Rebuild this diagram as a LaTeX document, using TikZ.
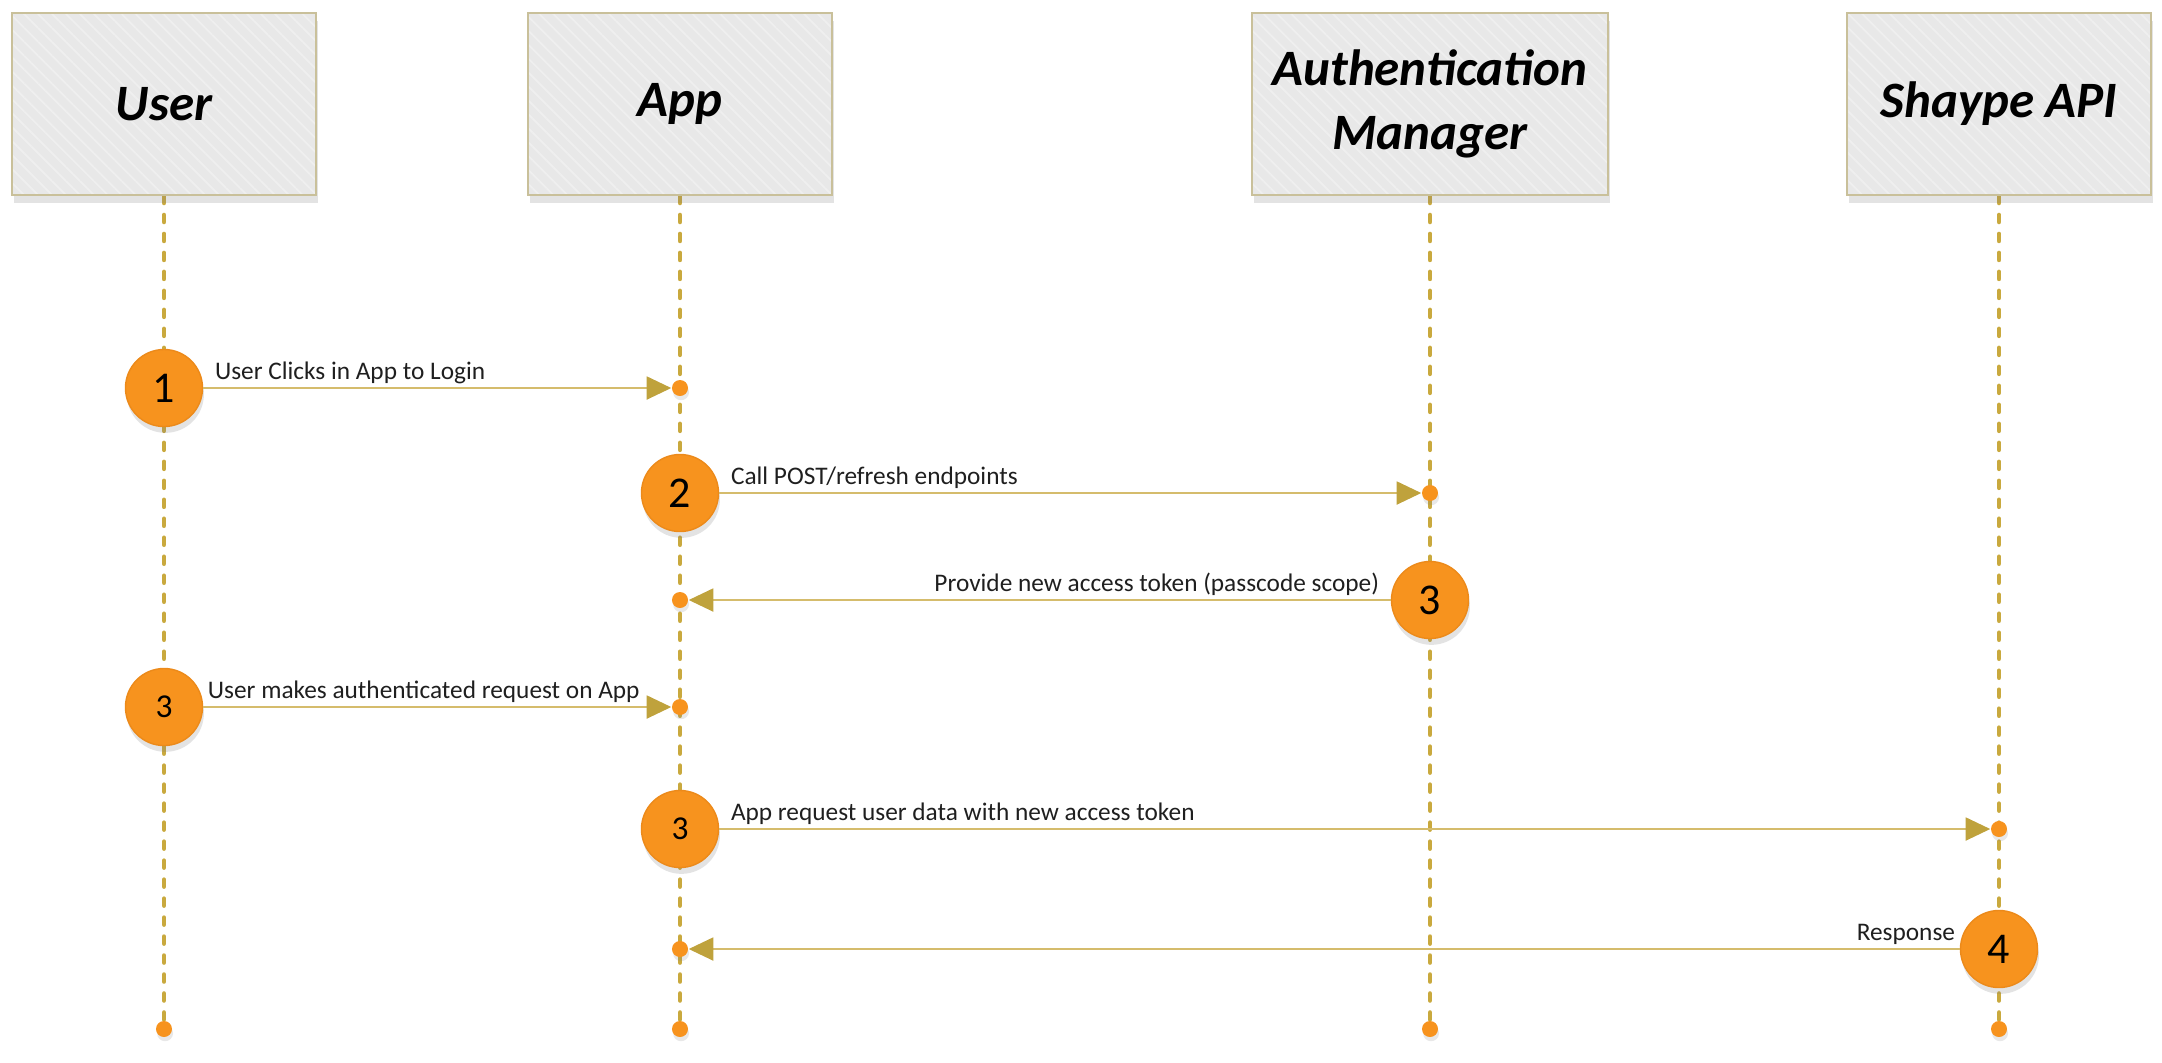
\documentclass[tikz,border=0pt]{standalone}
\usepackage{fontspec}
\setmainfont{Carlito}
\usetikzlibrary{arrows.meta,shadows,patterns.meta,backgrounds}
\definecolor{boxgray}{HTML}{E8E8E8}
\definecolor{hatchc}{HTML}{EFEFEF}
\definecolor{boxline}{HTML}{C9C09A}
\definecolor{lifecol}{HTML}{C9A93E}
\definecolor{msgcol}{HTML}{D5BC6C}
\definecolor{headcol}{HTML}{BFA23C}
\definecolor{orng}{HTML}{F7931E}
\definecolor{orngdk}{HTML}{EC8A1A}
\begin{document}
\begin{tikzpicture}[x=0.01cm,y=-0.01cm,
  actor/.style={rectangle,
    drop shadow={shadow xshift=0.6pt,shadow yshift=-2.2pt,opacity=0.22},
    preaction={fill=boxgray},
    preaction={pattern={Lines[angle=-45,distance=2.8pt,line width=0.5pt]},pattern color=hatchc},
    draw=boxline,line width=0.6pt,minimum width=3.04cm,minimum height=1.82cm,
    inner sep=0pt,align=center,
    font=\fontsize{14.5}{18}\selectfont\bfseries\itshape},
  numc/.style={circle,fill=orng,draw=orngdk,line width=0.4pt,minimum size=0.77cm,inner sep=0pt,
    drop shadow={shadow xshift=0.4pt,shadow yshift=-1.8pt,opacity=0.22},
    font=\fontsize{12.5}{14}\selectfont},
  smallnum/.style={font=\fontsize{9.5}{11}\selectfont},
  dot/.style={circle,fill=orng,minimum size=0.16cm,inner sep=0pt,
    drop shadow={shadow xshift=0.3pt,shadow yshift=-1.2pt,opacity=0.18}},
  life/.style={draw=lifecol,line width=1.4pt,dash pattern=on 1.9pt off 3.5pt,line cap=round},
  msg/.style={draw=msgcol,line width=0.7pt,-{Triangle[length=7pt,width=6.5pt,color=headcol]}},
  lbl/.style={font=\fontsize{7.2}{9}\selectfont,text=black!88,inner sep=0pt}
]
\useasboundingbox (0,0) rectangle (2162,1062);

% actors
\node[actor] (user) at (164,104) {User};
\node[actor] (app) at (680,104) {App};
\node[actor,minimum width=3.56cm] (auth) at (1430,104) {\raisebox{-3pt}{Authentication}\\\raisebox{-3pt}{Manager}};
\node[actor] (api) at (1999,104) {Shaype API};

% lifeline ends
\node[dot] (ue) at (164,1029) {};
\node[dot] (ae) at (680,1029) {};
\node[dot] (me) at (1430,1029) {};
\node[dot] (pe) at (1999,1029) {};

\begin{pgfonlayer}{background}
\draw[life] (user.south) -- (ue.center);
\draw[life] (app.south) -- (ae.center);
\draw[life] (auth.south) -- (me.center);
\draw[life] (api.south) -- (pe.center);
\end{pgfonlayer}

% message 1
\node[numc] (n1) at (164,388) {1};
\node[dot] (a1) at (680,388) {};
\draw[msg] (n1) -- (a1) node[lbl,pos=0,anchor=base west,xshift=3pt,yshift=2.3pt] {User Clicks in App to Login};

% message 2
\node[numc] (n2) at (680,493) {2};
\node[dot] (a2) at (1430,493) {};
\draw[msg] (n2) -- (a2) node[lbl,pos=0,anchor=base west,xshift=3pt,yshift=2.3pt] {Call POST/refresh endpoints};

% message 3
\node[numc] (n3) at (1430,600) {3};
\node[dot] (a3) at (680,600) {};
\draw[msg] (n3) -- (a3) node[lbl,pos=0,anchor=base east,xshift=-3pt,yshift=2.3pt] {Provide new access token (passcode scope)};

% message 4
\node[numc,smallnum] (n4) at (164,707) {3};
\node[dot] (a4) at (680,707) {};
\draw[msg] (n4) -- (a4) node[lbl,pos=0,anchor=base west,xshift=1pt,yshift=2.3pt] {User makes authenticated request on App};

% message 5
\node[numc,smallnum] (n5) at (680,829) {3};
\node[dot] (a5) at (1999,829) {};
\draw[msg] (n5) -- (a5) node[lbl,pos=0,anchor=base west,xshift=3pt,yshift=2.3pt] {App request user data with new access token};

% message 6
\node[numc] (n6) at (1999,949) {4};
\node[dot] (a6) at (680,949) {};
\draw[msg] (n6) -- (a6) node[lbl,pos=0,anchor=base east,xshift=-1pt,yshift=2.3pt] {Response};
\end{tikzpicture}
\end{document}
